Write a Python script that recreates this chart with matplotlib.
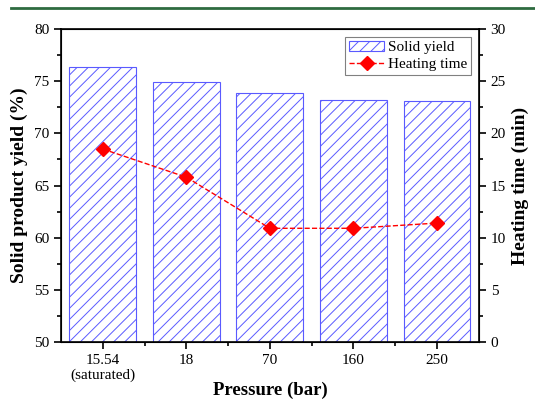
import matplotlib.pyplot as plt
from matplotlib.lines import Line2D
from matplotlib.ticker import MultipleLocator

plt.rcParams['font.family'] = ['Liberation Serif', 'DejaVu Serif']
plt.rcParams['hatch.color'] = '#5a5aff'
plt.rcParams['hatch.linewidth'] = 0.7

# data
pressure_labels = ['15.54\n(saturated)', '18', '70', '160', '250']
solid_yield = [76.4, 74.9, 73.9, 73.2, 73.1]
heating_time = [18.5, 15.8, 10.9, 10.9, 11.4]

fig = plt.figure(figsize=(5.35, 3.99), dpi=100)
ax = fig.add_axes([0.114, 0.143, 0.781, 0.784])

x = list(range(len(pressure_labels)))
bars = ax.bar(x, [v - 50 for v in solid_yield], bottom=50, width=0.8,
              facecolor='white', edgecolor='#5a5aff', hatch='///',
              linewidth=0.8, label='Solid yield')
ax.set_xlim(-0.5, 4.5)
ax.set_ylim(50, 80)
ax.yaxis.set_major_locator(MultipleLocator(5))
ax.yaxis.set_minor_locator(MultipleLocator(2.5))
ax.set_xticks(x)
ax.set_xticklabels(pressure_labels, fontsize=11, linespacing=1.15)
ax.set_xticks([0.5, 1.5, 2.5, 3.5], minor=True)
ax.tick_params(axis='both', which='both', direction='out', width=1.2)
ax.tick_params(axis='both', which='major', length=5, labelsize=11)
ax.tick_params(axis='both', which='minor', length=3)
ax.set_xlabel('Pressure (bar)', fontsize=13.5, fontweight='bold', labelpad=0)
ax.set_ylabel('Solid product yield (%)', fontsize=14, fontweight='bold', labelpad=4)
for s in ax.spines.values():
    s.set_linewidth(1.2)

ax2 = ax.twinx()
line, = ax2.plot(x, heating_time, color='red', linestyle='--', linewidth=1,
                 marker='D', markersize=7, label='Heating time')
ax2.set_ylim(0, 30)
ax2.yaxis.set_major_locator(MultipleLocator(5))
ax2.yaxis.set_minor_locator(MultipleLocator(2.5))
ax2.tick_params(axis='y', which='both', direction='out', width=1.2)
ax2.tick_params(axis='y', which='major', length=5, labelsize=11)
ax2.tick_params(axis='y', which='minor', length=3)
ax2.set_ylabel('Heating time (min)', fontsize=14, fontweight='bold', labelpad=4)

leg = ax2.legend([bars, line], ['Solid yield', 'Heating time'], loc='upper right',
                 fontsize=11, fancybox=False, framealpha=1, edgecolor='#808080',
                 borderaxespad=0.5, handlelength=2.3, handletextpad=0.25,
                 borderpad=0.25, labelspacing=0.2)
leg.get_frame().set_linewidth(0.8)

# green rule at the top of the page
fig.add_artist(Line2D([0.02, 1.0], [0.98, 0.98], color='#2e6b40', linewidth=2,
                      transform=fig.transFigure))

fig.savefig('out.png', dpi=100)
